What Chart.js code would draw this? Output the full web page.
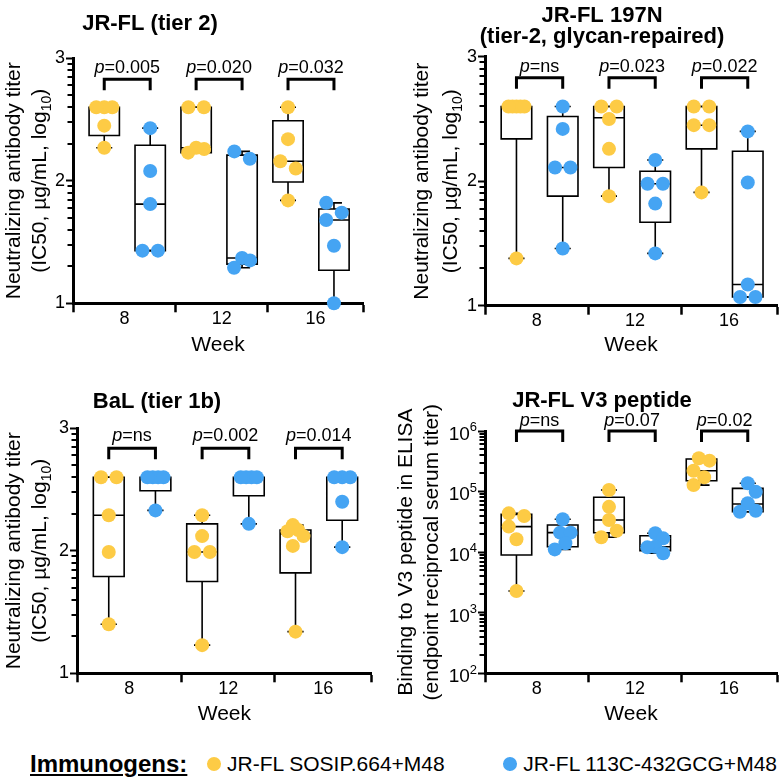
<!DOCTYPE html>
<html>
<head>
<meta charset="utf-8">
<title>Neutralizing and V3-binding antibody titers</title>
<script src="https://cdn.jsdelivr.net/npm/chart.js@4.4.1/dist/chart.umd.min.js"></script>
<style>
  html, body { margin:0; padding:0; background:#fff; }
  body { width:784px; height:783px; position:relative; overflow:hidden;
         font-family:'Liberation Sans', Arial, Helvetica, sans-serif; color:#000; }
  canvas { position:absolute; }
  #legend { position:absolute; left:0; top:746px; width:784px; height:36px; font-size:21px; white-space:nowrap; }
  #legend > span { position:absolute; top:0; height:36px; line-height:36px; display:flex; align-items:center; }
  #legend .lab { left:30px; font-weight:bold; text-decoration:underline; font-size:24px; }
  #legend .dot { display:inline-block; width:14px; height:14px; border-radius:50%; margin-right:6px; }
</style>
</head>
<body>
<canvas id="pA" width="392" height="380" style="left:0;top:0"></canvas>
<canvas id="pB" width="392" height="380" style="left:392px;top:0"></canvas>
<canvas id="pC" width="392" height="365" style="left:0;top:380px"></canvas>
<canvas id="pD" width="392" height="365" style="left:392px;top:380px"></canvas>
<div id="legend"></div>
<script>
// ---------------- DATA ----------------
const weeks = ['8', '12', '16'];
const immunogens = ['JR-FL SOSIP.664+M48', 'JR-FL 113C-432GCG+M48'];

// Panel A: JR-FL (tier 2), log10 IC50 titers
const tier2Sosip = [
  [2.60, 2.60, 2.60, 2.45, 2.27],
  [2.60, 2.60, 2.27, 2.26, 2.23],
  [2.60, 2.34, 2.16, 2.10, 1.84]
];
const tier2SosipBox = [[2.37, 2.60, 2.60], [2.23, 2.27, 2.60], [1.99, 2.16, 2.49]]; // q1, median, q3
const tier2Gcg = [
  [2.43, 2.08, 1.81, 1.43, 1.43],
  [2.24, 2.18, 1.37, 1.35, 1.29],
  [1.82, 1.74, 1.68, 1.47, 1.00]
];
const tier2GcgBox = [[1.43, 1.81, 2.29], [1.32, 1.37, 2.21], [1.27, 1.68, 1.77]];
const tier2P = ['0.005', '0.020', '0.032'];

// Panel B: JR-FL 197N (tier-2, glycan-repaired)
const n197Sosip = [
  [2.60, 2.60, 2.60, 2.60, 2.60, 1.38],
  [2.60, 2.60, 2.50, 2.26, 1.88],
  [2.60, 2.60, 2.45, 2.45, 1.91]
];
const n197SosipBox = [[2.34, 2.60, 2.60], [2.11, 2.51, 2.60], [2.26, 2.45, 2.60]];
const n197Gcg = [
  [2.60, 2.42, 2.11, 2.11, 1.46],
  [2.17, 1.98, 1.98, 1.82, 1.42],
  [2.40, 1.99, 1.17, 1.07, 1.07]
];
const n197GcgBox = [[1.88, 2.11, 2.52], [1.67, 1.98, 2.08], [1.07, 1.17, 2.24]];
const n197P = ['ns', '0.023', '0.022'];

// Panel C: BaL (tier 1b)
const balSosip = [
  [2.60, 2.60, 2.29, 1.99, 1.40],
  [2.29, 2.12, 1.99, 1.99, 1.23],
  [2.21, 2.17, 2.16, 2.12, 2.04, 1.34]
];
const balSosipBox = [[1.79, 2.29, 2.60], [1.75, 1.99, 2.22], [1.82, 2.14, 2.17]];
const balGcg = [
  [2.60, 2.60, 2.60, 2.60, 2.33],
  [2.60, 2.60, 2.60, 2.60, 2.22],
  [2.60, 2.60, 2.60, 2.40, 2.03]
];
const balGcgBox = [[2.49, 2.60, 2.60], [2.45, 2.60, 2.60], [2.25, 2.60, 2.60]];
const balP = ['ns', '0.002', '0.014'];

// Panel D: JR-FL V3 peptide ELISA, endpoint reciprocal serum titers
const v3Sosip = [
  [43700, 39500, 26400, 16300, 2290],
  [106000, 56000, 34000, 22600, 17600],
  [354000, 324000, 221000, 172000, 128000]
];
const v3SosipBox = [[8970, 26400, 42000], [20900, 34000, 80500], [151000, 221000, 345000]];
const v3Gcg = [
  [35000, 21000, 21000, 14000, 11100],
  [20500, 16900, 12300, 12000, 9600],
  [137000, 99600, 64000, 48300, 46500]
];
const v3GcgBox = [[12300, 21000, 28000], [10600, 12300, 18700], [46500, 62400, 113000]];
const v3P = ['ns', '0.07', '0.02'];

// ---------------- STYLE / LAYOUT ----------------
const FONT = "'Liberation Sans', Arial, Helvetica, sans-serif";
const COLORS = ['#FDCB45', '#45A4F3'];
Chart.defaults.font.family = FONT;
Chart.defaults.color = '#000';

const XMIN = -0.09, XMAX = 3.066, XDIV = [1.03, 2.03];
const PAIR = 0.25, BOX_HALF = 0.165, CAP_HALF = 0.087;
const DOT_R = 7;

const neutTitle = [[{t: 'Neutralizing antibody titer'}],
                   [{t: '(IC50, \u00B5g/mL, log'}, {t: '10', sub: true}, {t: ')'}]];

// title lines: [text, centre x, centre y] in canvas pixels
const panels = [
  { id: 'pA', W: 392, H: 380, area: {left: 73, top: 58.3, right: 363, bottom: 303.3},
    titles: [['JR-FL (tier 2)', 150, 22]],
    log: false, yMin: 1, yMax: 3, series: [tier2Sosip, tier2Gcg], boxes: [tier2SosipBox, tier2GcgBox], p: tier2P,
    yTitle: neutTitle, yTitleX: [12, 38], weekPad: 22.4, brk: 21, leg: 11, ptxt: 8 },
  { id: 'pB', W: 392, H: 380, area: {left: 93, top: 56.7, right: 386.7, bottom: 305.7},
    titles: [['JR-FL 197N', 210, 14], ['(tier-2, glycan-repaired)', 210, 35]],
    log: false, yMin: 1, yMax: 3, series: [n197Sosip, n197Gcg], boxes: [n197SosipBox, n197GcgBox], p: n197P,
    yTitle: neutTitle, yTitleX: [28, 57], weekPad: 22.4, brk: 21, leg: 11, ptxt: 9 },
  { id: 'pC', W: 392, H: 365, area: {left: 77, top: 48.3, right: 371.7, bottom: 293.3},
    titles: [['BaL (tier 1b)', 157, 20]],
    log: false, yMin: 1, yMax: 3, series: [balSosip, balGcg], boxes: [balSosipBox, balGcgBox], p: balP,
    yTitle: neutTitle, yTitleX: [12, 38], weekPad: 18.4, brk: 20, leg: 11, ptxt: 6 },
  { id: 'pD', W: 392, H: 365, area: {left: 93, top: 51, right: 386.7, bottom: 293.3},
    titles: [['JR-FL V3 peptide', 210, 19]],
    log: true, yMin: 100, yMax: 1e6, series: [v3Sosip, v3Gcg], boxes: [v3SosipBox, v3GcgBox], p: v3P,
    yTitle: [[{t: 'Binding to V3 peptide in ELISA'}], [{t: '(endpoint reciprocal serum titer)'}]],
    yTitleX: [12, 38], weekPad: 18.4, brk: 0, leg: 11, ptxt: -11 }
];

// ---------------- HELPERS ----------------
function polyData(polys) {
  const out = [];
  polys.forEach(p => {
    p.forEach(([x, y]) => out.push({x, y}));
    out.push({x: p[p.length - 1][0], y: null});
  });
  return out;
}
const centerOf = (g, s) => g + 0.5 + (s === 0 ? -PAIR : PAIR);

function boxPolys(panel) {
  const outl = [], whisk = [];
  panel.series.forEach((ser, s) => ser.forEach((vals, g) => {
    const c = centerOf(g, s), [q1, med, q3] = panel.boxes[s][g];
    const lo = Math.min(...vals), hi = Math.max(...vals), h = BOX_HALF;
    outl.push([[c, q1], [c + h, q1], [c + h, q3], [c - h, q3], [c - h, q1], [c, q1]]);
    outl.push([[c - h, med], [c + h, med]]);
    if (hi > q3) whisk.push([[c, q3], [c, hi]]);
    if (lo < q1) whisk.push([[c, q1], [c, lo]]);
    whisk.push([[c - CAP_HALF, hi], [c + CAP_HALF, hi]]);
    whisk.push([[c - CAP_HALF, lo], [c + CAP_HALF, lo]]);
  }));
  return {outl, whisk};
}

// beeswarm: greedy placement in pixel space, then each touching chain is centred and
// squeezed so that it never gets wider than the box
function swarm(pys) {
  const n = pys.length;
  const idx = [...Array(n).keys()].sort((a, b) => pys[a] - pys[b]);
  const offs = new Array(n).fill(0);
  const D = 13, S = 7.75, MAXW = 16;
  const cands = [0];
  for (let k = 1; k <= 6; k++) cands.push(k * S, -k * S);
  let chain = [];
  const finish = () => {
    if (chain.length > 1) {
      const xs = chain.map(i => offs[i]);
      const lo = Math.min(...xs), hi = Math.max(...xs), mid = (lo + hi) / 2;
      const sc = hi - lo > MAXW ? MAXW / (hi - lo) : 1;
      chain.forEach(i => { offs[i] = (offs[i] - mid) * sc; });
    }
  };
  idx.forEach((i, k) => {
    if (k > 0 && pys[i] - pys[idx[k - 1]] >= D) { finish(); chain = []; }
    for (const c of cands) {
      if (chain.every(j => Math.hypot(offs[j] - c, pys[j] - pys[i]) >= D)) { offs[i] = c; break; }
    }
    chain.push(i);
  });
  finish();
  return offs;
}

function drawRich(ctx, parts, x, y, size, align, bold) {
  const fontOf = p => `${p.italic ? 'italic ' : ''}${bold ? 'bold ' : ''}${(p.sub || p.sup) ? Math.round(size * 0.68) : size}px ${FONT}`;
  let w = 0;
  parts.forEach(p => { ctx.font = fontOf(p); p._w = ctx.measureText(p.t).width; w += p._w; });
  let cx = align === 'right' ? x - w : align === 'center' ? x - w / 2 : x;
  ctx.textAlign = 'left';
  ctx.textBaseline = 'alphabetic';
  const base = y + size * 0.36;
  parts.forEach(p => {
    ctx.font = fontOf(p);
    const dy = p.sub ? size * 0.28 : p.sup ? -size * 0.45 : 0;
    ctx.fillText(p.t, cx, base + dy);
    cx += p._w;
  });
}

function extrasPlugin(panel) {
  return {
    id: 'extras',
    afterDraw(chart) {
      const ctx = chart.ctx, ys = chart.scales.y, xs = chart.scales.x, ca = chart.chartArea;
      ctx.save();
      ctx.fillStyle = '#000';
      ctx.strokeStyle = '#000';
      // panel titles
      panel.titles.forEach(([t, x, y]) => drawRich(ctx, [{t}], x, y, 22, 'center', true));
      // minor (log) ticks
      ctx.lineWidth = 2;
      const minors = [];
      if (panel.log) {
        for (let d = 2; d < 6; d++) for (let k = 2; k <= 9; k++) minors.push(k * Math.pow(10, d));
      } else {
        for (let d = 1; d < 3; d++) for (let k = 2; k <= 9; k++) minors.push(d + Math.log10(k));
      }
      minors.forEach(v => {
        const y = Math.round(ys.getPixelForValue(v));
        ctx.beginPath(); ctx.moveTo(ca.left - 1, y); ctx.lineTo(ca.left - 5.5, y); ctx.stroke();
      });
      // power-of-ten labels for the log panel
      if (panel.log) {
        for (let p = 2; p <= 6; p++) {
          const y = ys.getPixelForValue(Math.pow(10, p));
          drawRich(ctx, [{t: '10'}, {t: String(p), sup: true}], ca.left - 8, y + 2, 19, 'right');
        }
      }
      // y-axis title (two lines, rotated)
      const cy = (ca.top + ca.bottom) / 2;
      panel.yTitle.forEach((parts, i) => {
        ctx.save();
        ctx.translate(panel.yTitleX[i], cy);
        ctx.rotate(-Math.PI / 2);
        drawRich(ctx, parts.map(p => Object.assign({}, p)), 0, 0, 21, 'center');
        ctx.restore();
      });
      // p-values above brackets
      panel.p.forEach((pv, g) => {
        drawRich(ctx, [{t: 'p', italic: true}, {t: '=' + pv}], xs.getPixelForValue(g + 0.5), ca.top + panel.ptxt, 18, 'center');
      });
      ctx.restore();
    }
  };
}

// ---------------- CHARTS ----------------
function buildPanel(panel) {
  const {outl, whisk} = boxPolys(panel);
  const xTickVals = [XMIN, (XMIN + XDIV[0]) / 2, XDIV[0], (XDIV[0] + XDIV[1]) / 2, XDIV[1], (XDIV[1] + XMAX) / 2, XMAX];
  const dotDs = (s) => ({
    label: immunogens[s], data: [], order: 0, clip: false,
    pointRadius: DOT_R, pointHoverRadius: DOT_R, pointBackgroundColor: COLORS[s],
    pointBorderWidth: 0, backgroundColor: COLORS[s], borderColor: COLORS[s], showLine: false
  });
  const lineDs = (label, data, order, width) => ({
    label, data, order, clip: false, showLine: true, spanGaps: false,
    borderColor: '#000', borderWidth: width, pointRadius: 0, pointHoverRadius: 0,
    borderJoinStyle: 'miter', borderCapStyle: 'butt', fill: false, tension: 0
  });
  const yScale = panel.log ? {
    type: 'logarithmic', min: panel.yMin, max: panel.yMax,
    afterBuildTicks: sc => { sc.ticks = [2, 3, 4, 5, 6].map(p => ({value: Math.pow(10, p), major: true})); },
    ticks: {callback: () => '', font: {size: 18}}
  } : {
    type: 'linear', min: panel.yMin, max: panel.yMax,
    ticks: {stepSize: 1, padding: 1, font: {size: 18}, color: '#000', callback: v => String(v)}
  };
  Object.assign(yScale, {
    afterFit: sc => { sc.width = panel.area.left; },
    grid: {display: true, drawOnChartArea: false, drawTicks: true, tickLength: 7, tickWidth: 2, tickColor: '#000'},
    border: {display: true, width: 3, color: '#000'}
  });
  const chart = new Chart(document.getElementById(panel.id), {
    type: 'scatter',
    data: {datasets: [
      dotDs(0), dotDs(1),
      lineDs('brackets', [], 1, 3),
      lineDs('whiskers', polyData(whisk), 2, 1.6),
      lineDs('boxes', polyData(outl), 3, 1.6)
    ]},
    options: {
      responsive: false, animation: false, events: [], devicePixelRatio: 1,
      layout: {padding: {left: 0, top: panel.area.top, bottom: 0, right: panel.W - panel.area.right}},
      plugins: {legend: {display: false}, tooltip: {enabled: false}, title: {display: false}},
      scales: {
        x: {
          type: 'linear', min: XMIN, max: XMAX,
          afterBuildTicks: sc => { sc.ticks = xTickVals.map(v => ({value: v})); },
          afterFit: sc => { sc.height = panel.H - panel.area.bottom; },
          ticks: {autoSkip: false, maxRotation: 0, minRotation: 0, padding: -4, font: {size: 18}, color: '#000',
                  callback: (v, i) => (i % 2 === 1 ? weeks[(i - 1) / 2] : '')},
          grid: {display: true, drawOnChartArea: false, drawTicks: true, tickLength: 9, tickWidth: 2.5,
                 tickColor: c => (c.index % 2 === 0 ? '#000' : 'rgba(0,0,0,0)')},
          border: {display: true, width: 3, color: '#000'},
          title: {display: true, text: 'Week', color: '#000', font: {size: 21}, padding: {top: 0, bottom: panel.weekPad}}
        },
        y: yScale
      }
    },
    plugins: [extrasPlugin(panel)]
  });

  // second pass: beeswarm dot positions and brackets from the laid-out scales
  const xs = chart.scales.x, ys = chart.scales.y;
  const pxPerX = (xs.right - xs.left) / (XMAX - XMIN);
  panel.series.forEach((ser, s) => {
    const pts = [];
    ser.forEach((vals, g) => {
      const offs = swarm(vals.map(v => ys.getPixelForValue(v)));
      vals.forEach((v, i) => pts.push({x: centerOf(g, s) + offs[i] / pxPerX, y: v}));
    });
    chart.data.datasets[s].data = pts;
  });
  const yT = ys.getValueForPixel(chart.chartArea.top + panel.brk);
  const yB = ys.getValueForPixel(chart.chartArea.top + panel.brk + panel.leg);
  const br = [0, 1, 2].map(g => [[centerOf(g, 0), yB], [centerOf(g, 0), yT], [centerOf(g, 1), yT], [centerOf(g, 1), yB]]);
  chart.data.datasets[2].data = polyData(br);
  chart.update('none');
  return chart;
}

panels.forEach(buildPanel);

// ---------------- LEGEND ----------------
const legend = document.getElementById('legend');
const lab = document.createElement('span');
lab.className = 'lab';
lab.textContent = 'Immunogens:';
legend.appendChild(lab);
immunogens.forEach((name, i) => {
  const item = document.createElement('span');
  if (i === 0) item.style.left = '207px'; else item.style.right = '7px';
  const d = document.createElement('span');
  d.className = 'dot';
  d.style.background = COLORS[i];
  item.appendChild(d);
  item.appendChild(document.createTextNode(name));
  legend.appendChild(item);
});
</script>
</body>
</html>
